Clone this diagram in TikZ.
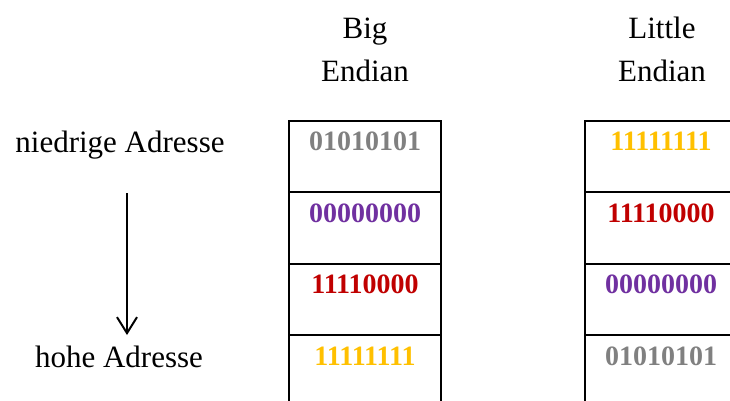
\documentclass[tikz,border=0pt]{standalone}
\usepackage{fontspec}
\setmainfont{Liberation Serif}
\usetikzlibrary{positioning}
\usetikzlibrary{arrows.meta}

\definecolor{bitgrey}{RGB}{128,128,128}
\definecolor{bitpurple}{RGB}{112,48,160}
\definecolor{bitred}{RGB}{192,0,0}
\definecolor{bitgold}{RGB}{255,192,0}

\begin{document}
\begin{tikzpicture}[x=0.5pt, y=-0.5pt,
    cell/.style={draw, line width=1pt, minimum width=76pt, minimum height=35.75pt, inner sep=0pt, outer sep=0pt},
    bits/.style={font=\fontsize{14}{17}\selectfont\bfseries, text=#1, anchor=base},
    txt/.style={font=\fontsize{15.5}{21.5}\selectfont, align=center},
    arr/.style={-{Straight Barb[length=8pt,width=10pt]}, line width=1pt}]
    \useasboundingbox (0,0) rectangle (730,401);
    \clip (0,0) rectangle (730,401);

    % big endian: most significant byte first
    \node[cell] (big1) at (365,156.75) {};
    \node[cell, below=0pt of big1] (big2) {};
    \node[cell, below=0pt of big2] (big3) {};
    \node[cell, below=0pt of big3] (big4) {};
    \node[bits=bitgrey] (bigbits1) at ([yshift=-15pt]big1.north) {01010101};
    \node[bits=bitpurple] (bigbits2) at ([yshift=-15pt]big2.north) {00000000};
    \node[bits=bitred] (bigbits3) at ([yshift=-15pt]big3.north) {11110000};
    \node[bits=bitgold] (bigbits4) at ([yshift=-15pt]big4.north) {11111111};
    \node[txt, anchor=south] (bighead) at ([yshift=16pt]big1.north) {Big\\Endian};

    % little endian: least significant byte first
    \node[cell] (little1) at (661,156.75) {};
    \node[cell, below=0pt of little1] (little2) {};
    \node[cell, below=0pt of little2] (little3) {};
    \node[cell, below=0pt of little3] (little4) {};
    \node[bits=bitgold] (littlebits1) at ([yshift=-15pt]little1.north) {11111111};
    \node[bits=bitred] (littlebits2) at ([yshift=-15pt]little2.north) {11110000};
    \node[bits=bitpurple] (littlebits3) at ([yshift=-15pt]little3.north) {00000000};
    \node[bits=bitgrey] (littlebits4) at ([yshift=-15pt]little4.north) {01010101};
    \node[txt, anchor=south] (littlehead) at ([xshift=0.5pt,yshift=16pt]little1.north) {Little\\Endian};

    % address direction
    \node[txt] (low) at (120,145) {niedrige Adresse};
    \node[txt] (high) at (119,357) {hohe Adresse};
    \draw[arr, shorten <=13.5pt, shorten >=2pt] ([xshift=3.5pt]low.south) -- ([xshift=4pt]high.north);
\end{tikzpicture}
\end{document}
